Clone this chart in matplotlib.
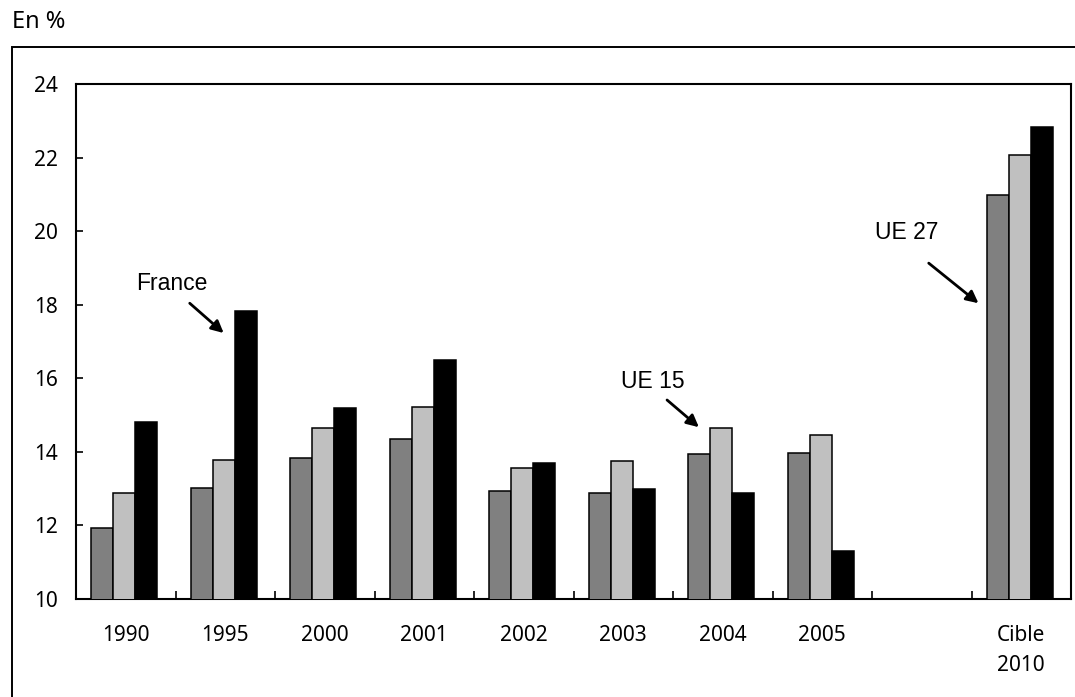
import numpy as np
import matplotlib
matplotlib.use("Agg")
import matplotlib.pyplot as plt
from matplotlib.patches import Rectangle

# categories and values (in %)
categories = ["1990", "1995", "2000", "2001", "2002", "2003", "2004", "2005", "", "Cible\n2010"]
ue27 = [11.92, 13.02, 13.83, 14.36, 12.93, 12.88, 13.93, 13.98, np.nan, 20.98]
ue15 = [12.89, 13.79, 14.66, 15.23, 13.55, 13.74, 14.65, 14.46, np.nan, 22.08]
france = [14.80, 17.83, 15.19, 16.49, 13.70, 12.98, 12.89, 11.30, np.nan, 22.82]

series = [ue27, ue15, france]
colors = ["#808080", "#c0c0c0", "#000000"]

tick_font = "Noto Sans"
note_font = "Liberation Sans"

fig = plt.figure(figsize=(10.75, 6.97), dpi=100)
ax = fig.add_axes([0.0707, 0.1406, 0.9256, 0.7389])

# outer frame (runs off the right and bottom edges)
fig.patches.append(Rectangle((12 / 1075, -0.05), 1.2, 0.05 + (697 - 47) / 697,
                             transform=fig.transFigure, fill=False,
                             edgecolor="#000000", linewidth=1.4))
fig.text(12 / 1075, (697 - 22) / 697, "En %", fontsize=17, family=tick_font,
         ha="left", va="center")

x = np.arange(len(categories))
width = 0.22
for k, (vals, c) in enumerate(zip(series, colors)):
    ax.bar(x + (k - 1) * width - 0.015, vals, width=width, color=c,
           edgecolor="black", linewidth=1.1, zorder=3)

ax.set_xlim(-0.5, len(categories) - 0.5)
ax.set_ylim(10, 24)
ax.set_yticks(np.arange(10, 25, 2))
ax.tick_params(axis="y", direction="in", length=5, width=1.2, pad=13,
               labelsize=15)
ax.set_xticks(x)
ax.set_xticklabels(categories)
ax.set_xticks(x[:-1] + 0.5, minor=True)
ax.tick_params(axis="x", which="major", length=0, pad=19, labelsize=15)
ax.tick_params(axis="x", which="minor", direction="in", length=6, width=1.2)
for lab in ax.get_xticklabels() + ax.get_yticklabels():
    lab.set_family(tick_font)
for lab in ax.get_xticklabels():
    lab.set_linespacing(1.55)

for sp in ax.spines.values():
    sp.set_linewidth(1.5)

arrow = dict(arrowstyle="-|>", color="black", lw=2.0, mutation_scale=18,
             shrinkA=0, shrinkB=0)
ax.annotate("", xy=(0.984, 17.23), xytext=(0.643, 18.04), arrowprops=arrow)
ax.text(0.463, 18.59, "France", fontsize=16.5, family=note_font,
        ha="center", va="center")
ax.annotate("", xy=(5.76, 14.67), xytext=(5.44, 15.41), arrowprops=arrow)
ax.text(5.30, 15.92, "UE 15", fontsize=16.5, family=note_font,
        ha="center", va="center")
ax.annotate("", xy=(8.57, 18.04), xytext=(8.07, 19.13), arrowprops=arrow)
ax.text(7.85, 19.97, "UE 27", fontsize=16.5, family=note_font,
        ha="center", va="center")

fig.savefig("out.png", dpi=100)
